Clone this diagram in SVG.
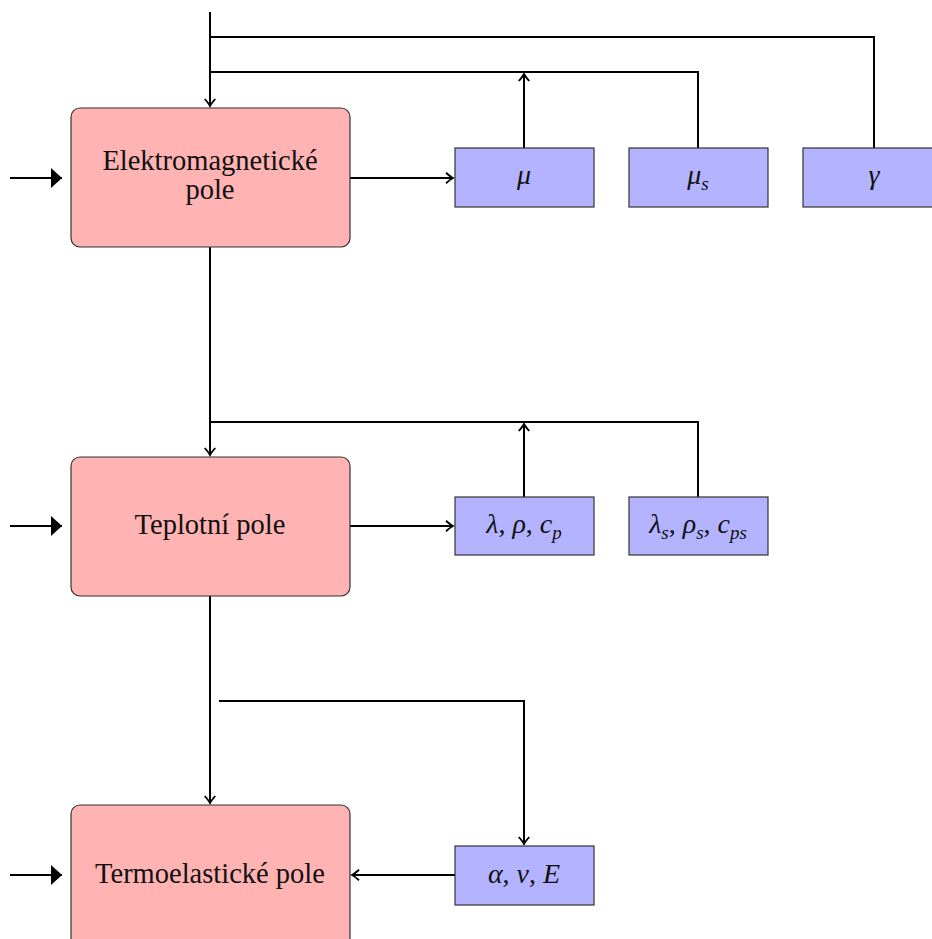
<svg xmlns="http://www.w3.org/2000/svg" width="932" height="939" viewBox="0 0 932 939">
<style>
.field{fill:#ffb3b3;stroke:#333;stroke-width:1.2}
.param{fill:#b3b3ff;stroke:#333;stroke-width:1.2}
.lbl{font-family:"Liberation Serif","Times New Roman",serif;font-size:28.5px;fill:#111;text-anchor:middle}
.math{font-family:"Liberation Serif","Times New Roman",serif;font-size:28px;font-style:italic;fill:#111;text-anchor:middle}
.sub{font-size:19px}
.wire{fill:none;stroke:#000;stroke-width:2}
</style>
<defs>
<marker id="arr" markerUnits="userSpaceOnUse" markerWidth="14" markerHeight="14" viewBox="-8 -6 10 12" refX="0" refY="0" orient="auto">
<path d="M-6,-4.5 Q-2,-1 0,0 Q-2,1 -6,4.5" fill="none" stroke="#000" stroke-width="1.6"/>
</marker>
<marker id="big" markerUnits="userSpaceOnUse" markerWidth="14" markerHeight="22" viewBox="-11 -10 12 20" refX="0" refY="0" orient="auto">
<path d="M-10,-9 L0,0 L-10,9 Z" fill="#000"/>
</marker>
</defs>

<g id="connectors">
<path class="wire" d="M210,12 L210,106" marker-end="url(#arr)"/>
<path class="wire" d="M210,37 L874,37 L874,148"/>
<path class="wire" d="M210,72 L698,72 L698,148"/>
<path class="wire" d="M524,148 L524,74" marker-end="url(#arr)"/>
<path class="wire" d="M350,178 L453,178" marker-end="url(#arr)"/>
<path class="wire" d="M10,178 L62,178" stroke-width="1.5" marker-end="url(#big)"/>
<path class="wire" d="M210,247 L210,455" marker-end="url(#arr)"/>
<path class="wire" d="M210,422 L698,422 L698,497"/>
<path class="wire" d="M524,497 L524,424" marker-end="url(#arr)"/>
<path class="wire" d="M350,526 L453,526" marker-end="url(#arr)"/>
<path class="wire" d="M10,526 L62,526" stroke-width="1.5" marker-end="url(#big)"/>
<path class="wire" d="M210,596 L210,803" marker-end="url(#arr)"/>
<path class="wire" d="M219,701 L524,701 L524,844" marker-end="url(#arr)"/>
<path class="wire" d="M455,875 L352,875" marker-end="url(#arr)"/>
<path class="wire" d="M10,875 L62,875" stroke-width="1.5" marker-end="url(#big)"/>
</g>

<g id="em">
<rect class="field" x="71" y="108" width="279" height="139" rx="9"/>
<text class="lbl" x="210" y="170">Elektromagnetické</text>
<text class="lbl" x="210" y="199">pole</text>
</g>
<g id="mu">
<rect class="param" x="455" y="148" width="139" height="59"/>
<text class="math" x="524" y="184">μ</text>
</g>
<g id="mus">
<rect class="param" x="629" y="148" width="139" height="59"/>
<text class="math" x="698" y="184">μ<tspan class="sub" dy="6">s</tspan></text>
</g>
<g id="gamma">
<rect class="param" x="803" y="148" width="140" height="59"/>
<text class="math" x="874" y="184">γ</text>
</g>

<g id="tp">
<rect class="field" x="71" y="457" width="279" height="139" rx="9"/>
<text class="lbl" x="210" y="534">Teplotní pole</text>
</g>
<g id="lam">
<rect class="param" x="455" y="497" width="139" height="58"/>
<text class="math" x="524" y="533">λ<tspan font-style="normal">, </tspan>ρ<tspan font-style="normal">, </tspan>c<tspan class="sub" dy="6">p</tspan></text>
</g>
<g id="lams">
<rect class="param" x="629" y="497" width="139" height="58"/>
<text class="math" x="698" y="533">λ<tspan class="sub" dy="6">s</tspan><tspan font-style="normal" dy="-6">, </tspan>ρ<tspan class="sub" dy="6">s</tspan><tspan font-style="normal" dy="-6">, </tspan>c<tspan class="sub" dy="6">ps</tspan></text>
</g>

<g id="te">
<rect class="field" x="71" y="805" width="279" height="145" rx="9"/>
<text class="lbl" x="210" y="883">Termoelastické pole</text>
</g>
<g id="alpha">
<rect class="param" x="455" y="846" width="139" height="59"/>
<text class="math" x="524" y="883">α<tspan font-style="normal">, </tspan>v<tspan font-style="normal">, </tspan>E</text>
</g>
</svg>
